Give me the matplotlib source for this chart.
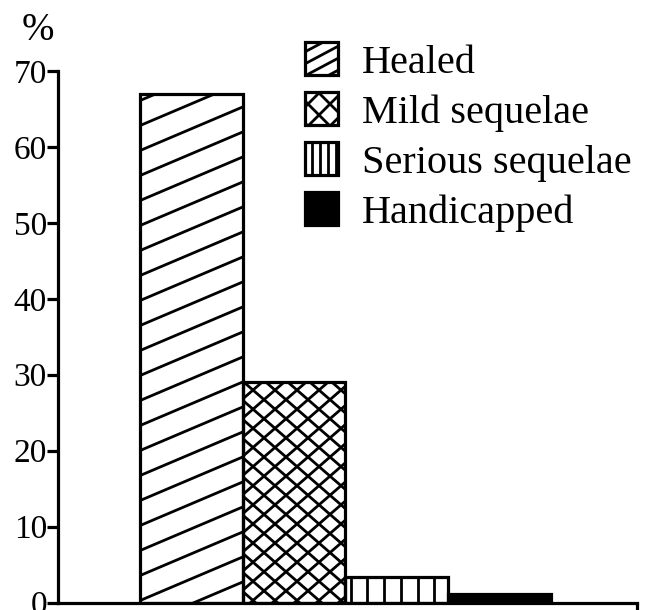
import numpy as np
import matplotlib
matplotlib.use("Agg")
import matplotlib.pyplot as plt
from matplotlib.patches import Rectangle
from matplotlib.lines import Line2D
from matplotlib.transforms import IdentityTransform

categories = ["Healed", "Mild sequelae", "Serious sequelae", "Handicapped"]
values = [67.0, 29.0, 3.3, 1.1]
yticks = [0, 10, 20, 30, 40, 50, 60, 70]
styles = ["diag", "cross", "vert", "solid"]

plt.rcParams['font.family'] = ['Liberation Serif', 'DejaVu Serif']

W, H = 645, 610
fig = plt.figure(figsize=(W / 100, H / 100), dpi=100)
ax = fig.add_axes([58 / W, (H - 602.5) / H, 579 / W, 531.5 / H])
ax.set_xlim(-1.298, 4.337)
ax.set_ylim(0, 70)

LW = 2.3
HLW = 2.0


def hatch(container, clip, x0, y0, x1, y1, angle, spacing, lw=HLW, zorder=2, phase=0.0):
    """Draw parallel lines in display coords within box, clipped to clip patch."""
    a = np.deg2rad(angle)
    d = np.array([np.cos(a), np.sin(a)])
    n = np.array([-np.sin(a), np.cos(a)])
    corners = np.array([[x0, y0], [x1, y0], [x0, y1], [x1, y1]])
    proj = corners @ n
    L = np.hypot(x1 - x0, y1 - y0) + 10
    cen = np.array([(x0 + x1) / 2, (y0 + y1) / 2])
    o = np.floor(proj.min() / spacing) * spacing + phase
    while o <= proj.max() + spacing:
        c = o * n
        t = (cen - c) @ d
        p = c + t * d
        pa, pb = p - L * d, p + L * d
        ln = Line2D([pa[0], pb[0]], [pa[1], pb[1]], color='black', lw=lw,
                    transform=IdentityTransform(), zorder=zorder,
                    solid_capstyle='butt')
        if hasattr(container, 'add_line'):
            container.add_line(ln)
        else:
            container.add_artist(ln)
        ln.set_clip_path(clip)
        o += spacing


def fill_style(container, clip, x0, y0, x1, y1, style, legend=False, zorder=2):
    if style == "diag":
        ang = 28 if legend else 23
        hatch(container, clip, x0, y0, x1, y1, ang,
              (12 if legend else 25) * np.cos(np.deg2rad(ang)), zorder=zorder)
    elif style == "cross":
        h = 22 if legend else 22
        ang = 45 if legend else 41
        sp = h * np.sin(np.deg2rad(ang))
        hatch(container, clip, x0, y0, x1, y1, ang, sp, zorder=zorder)
        hatch(container, clip, x0, y0, x1, y1, 180 - ang, sp, zorder=zorder)
    elif style == "vert":
        hatch(container, clip, x0, y0, x1, y1, 90, 8 if legend else 16.7, zorder=zorder)


xpos = np.arange(len(values))
faces = ['black' if s == 'solid' else 'white' for s in styles]
bars = ax.bar(xpos, values, width=1.0, color=faces, edgecolor='none', zorder=1)
ax.bar(xpos, values, width=1.0, fill=False, edgecolor='black', linewidth=LW, zorder=3)

for b, s in zip(bars, styles):
    if s == 'solid':
        continue
    (bx0, by0), (bx1, by1) = ax.transData.transform(
        [[b.get_x(), 0], [b.get_x() + b.get_width(), b.get_height()]])
    fill_style(ax, b, bx0, by0, bx1, by1, s)

for sp in ['top', 'right']:
    ax.spines[sp].set_visible(False)
for sp in ['left', 'bottom']:
    ax.spines[sp].set_linewidth(LW)
ax.set_yticks(yticks)
ax.set_yticklabels([str(t) for t in yticks])
ax.tick_params(axis='y', direction='out', length=8, width=LW, labelsize=24, pad=0)
ax.set_xticks([4.337])
ax.set_xticklabels([])
ax.tick_params(axis='x', direction='out', length=8, width=LW)
ax.spines['bottom'].set_zorder(4)

fig.text(38 / W, 1 - 31 / H, "%", fontsize=28, ha='center', va='center')

for i, (lab, s) in enumerate(zip(categories, styles)):
    top = 42 + 50 * i
    x0p, x1p = 305, 338
    y0d, y1d = H - (top + 33), H - top
    rect = Rectangle((x0p, y0d), x1p - x0p, y1d - y0d, transform=IdentityTransform(),
                     facecolor='black' if s == 'solid' else 'white', edgecolor='none', zorder=5)
    fig.add_artist(rect)
    if s != 'solid':
        fill_style(fig, rect, x0p, y0d, x1p, y1d, s, legend=True, zorder=6)
    edge = Rectangle((x0p, y0d), x1p - x0p, y1d - y0d, transform=IdentityTransform(),
                     fill=False, edgecolor='black', linewidth=LW, zorder=7)
    fig.add_artist(edge)
    fig.text(362 / W, 1 - (top + 17) / H, lab, fontsize=29, ha='left', va='center_baseline')

fig.savefig("out.png", dpi=100)
